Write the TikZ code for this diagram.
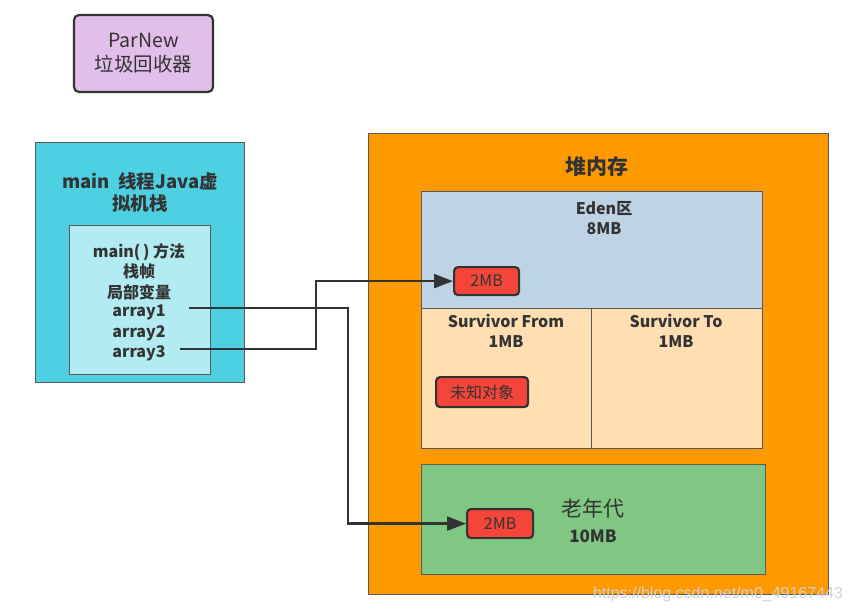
\documentclass[tikz,border=0pt]{standalone}
\usepackage{fontspec}
\setmainfont{Noto Sans CJK SC}
\newfontfamily\marcafont{Liberation Sans}
\usetikzlibrary{positioning,arrows.meta}

\definecolor{lila}{HTML}{E2BFE8}
\definecolor{cian}{HTML}{4DD0E2}
\definecolor{cianclaro}{HTML}{B3EBF2}
\definecolor{naranja}{HTML}{FF9900}
\definecolor{edenc}{HTML}{BED4E6}
\definecolor{survc}{HTML}{FFDFB1}
\definecolor{viejoc}{HTML}{80C783}
\definecolor{rojo}{HTML}{F5443A}
\definecolor{borde}{HTML}{5A5A5A}
\definecolor{linea}{HTML}{333333}

\tikzset{
  zona/.style={draw=borde, line width=1.3pt, anchor=north west, inner sep=0pt},
  objeto/.style={draw=linea, line width=2.2pt, rounded corners=4pt, fill=rojo,
    text=linea, font=\fontsize{16}{18}\selectfont, anchor=north west, inner sep=0pt},
  flecha/.style={draw=linea, line width=2.3pt, -{Triangle[length=19pt,width=14pt]}},
  titulo/.style={align=center, text=linea, font=\bfseries\fontsize{18.5}{22}\selectfont},
  texto/.style={align=center, text=linea, font=\bfseries\fontsize{16}{20.5}\selectfont}
}

\begin{document}
\begin{tikzpicture}[x=1pt, y=-1pt]
    \useasboundingbox (0,0) rectangle (852,613);

    % Recolector
    \node (parnew) [draw=linea, line width=2.2pt, rounded corners=5pt, fill=lila,
      minimum width=139pt, minimum height=77pt, align=center, text=linea,
      font=\fontsize{19.5}{24}\selectfont] at (143.5,53.5) {ParNew\\垃圾回收器};

    % Pila del hilo main
    \node (pila) [zona, fill=cian, minimum width=209pt, minimum height=240pt] at (35,142) {};
    \node (pilatit) [titulo] at (140,192) {main\ \ 线程Java虚\\拟机栈};
    \node (marco) [zona, fill=cianclaro, minimum width=141pt, minimum height=149pt] at (69,225) {};
    \node (marcotit) [texto] at (139,271.5) {main(\,) 方法\\栈帧\\局部变量};
    \node (array1) [texto] at (139,312) {array1};
    \node (array2) [texto] at (139,333) {array2};
    \node (array3) [texto] at (139,353) {array3};
    \coordinate (a1) at (189,308);
    \coordinate (a3) at (180,349);

    % Heap
    \node (heap) [zona, fill=naranja, minimum width=460pt, minimum height=461pt] at (368,133) {};
    \node (heaptit) [titulo, font=\bfseries\fontsize{21}{24}\selectfont] at (597,167) {堆内存};

    \node (eden) [zona, fill=edenc, minimum width=341pt, minimum height=117pt] at (421,191) {};
    \node (edentit) [texto] at (604,218) {Eden区\\8MB};
    \node (from) [zona, fill=survc, minimum width=170pt, minimum height=140pt] at (421,308) {};
    \node (fromtit) [texto] at (506,331) {Survivor From\\1MB};
    \node (to) [zona, fill=survc, minimum width=171pt, minimum height=140pt] at (591,308) {};
    \node (totit) [texto] at (676,331) {Survivor To\\1MB};

    \node (viejo) [zona, fill=viejoc, minimum width=344pt, minimum height=110pt] at (421,464) {};
    \node (viejotit) [text=linea, font=\fontsize{21}{24}\selectfont] at (593,508) {老年代};
    \node (viejomb) [text=linea, font=\bfseries\fontsize{17}{20}\selectfont] at (593,536) {10MB};

    % Objetos
    \node (edenobj) [objeto, minimum width=65pt, minimum height=28pt] at (453,266) {2MB};
    \node (unkobj) [objeto, minimum width=92pt, minimum height=30pt] at (435,376) {未知对象};
    \node (oldobj) [objeto, minimum width=66pt, minimum height=29pt] at (466,508) {2MB};

    % Referencias
    \draw[flecha] (a1) -- ++(159,0) |- (oldobj.west);
    \draw[flecha] (a3) -- ++(136,0) |- (edenobj.west);

    % Marca de agua
    \node (marca) [text=black!18, font=\marcafont\fontsize{16}{18}\selectfont] at (718,594) {https://blog.csdn.net/m0\_49167443};
\end{tikzpicture}
\end{document}
